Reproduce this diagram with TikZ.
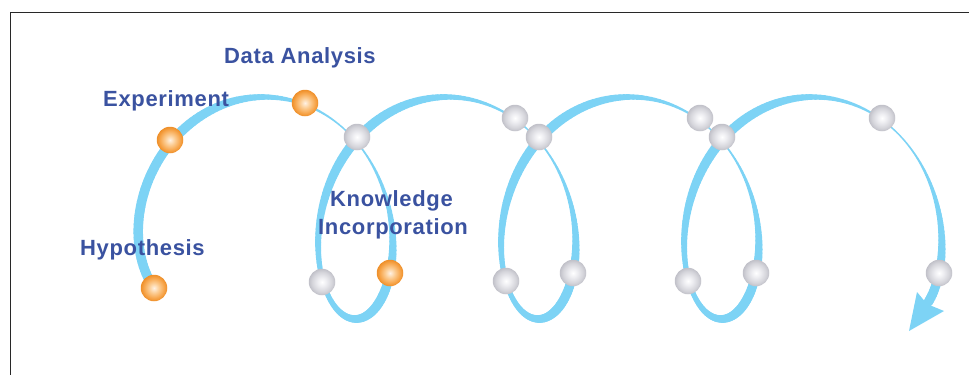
\documentclass[tikz,border=0pt]{standalone}
\usepackage{fontspec}
\newfontfamily\lblfont[LetterSpace=3]{Liberation Sans}
\definecolor{ribbon}{RGB}{125,211,245}
\definecolor{lbl}{RGB}{58,82,160}
\definecolor{framecol}{RGB}{40,40,40}
\definecolor{orA}{RGB}{255,242,228}
\definecolor{orB}{RGB}{252,206,150}
\definecolor{orC}{RGB}{247,166,76}
\definecolor{orD}{RGB}{238,142,40}
\definecolor{grA}{RGB}{255,255,255}
\definecolor{grB}{RGB}{236,236,240}
\definecolor{grC}{RGB}{212,212,218}
\definecolor{grD}{RGB}{192,192,200}
\pgfdeclareradialshading{orangeballshade}{\pgfpoint{0bp}{0bp}}{color(0bp)=(orA); color(9bp)=(orB); color(19bp)=(orC); color(25bp)=(orD); color(50bp)=(orD)}
\pgfdeclareradialshading{grayballshade}{\pgfpoint{0bp}{0bp}}{color(0bp)=(grA); color(9bp)=(grB); color(19bp)=(grC); color(25bp)=(grD); color(50bp)=(grD)}
\begin{document}
\begin{tikzpicture}[x=1pt,y=-1pt,
  declare function={
    rxf(\x)=79+4*cos(deg(\x));
    cxf(\x)=264+29.125*\x+rxf(\x)*sin(deg(\x))+3.7*max(0,-\x-0.9)*max(0,-\x-0.9)*max(0,-\x-0.9);
    cyf(\x)=208-111*cos(deg(\x));
    wwf(\x)=(\x < -0.9)*9.5+(1-(\x < -0.9))*(6.3+3.1*cos(deg(2*(\x-2.4)))+1.75*cos(deg(\x-4.04)));
  },
  obal/.style={circle, minimum size=26.5pt, inner sep=0pt, shade, shading=orangeballshade},
  gbal/.style={circle, minimum size=26.5pt, inner sep=0pt, shade, shading=grayballshade},
  lbltext/.style={font=\lblfont\bfseries\fontsize{22}{28}\selectfont, text=lbl, inner sep=0pt, anchor=base west},
  rib/.style={draw=ribbon, line cap=round}
]
\useasboundingbox (0,0) rectangle (969,375);
% frame
\draw[framecol, line width=1.3pt] (969,12.5) -- (10.8,12.5) -- (10.8,375);
% ribbon
\foreach \i in {0,...,595} {
  \pgfmathsetmacro\ta{-2.4+0.04*\i}
  \pgfmathsetmacro\tb{\ta+0.04}
  \pgfmathsetmacro\tm{\ta+0.02}
  \pgfmathsetmacro\xa{cxf(\ta)}
  \pgfmathsetmacro\ya{cyf(\ta)}
  \pgfmathsetmacro\xb{cxf(\tb)}
  \pgfmathsetmacro\yb{cyf(\tb)}
  \pgfmathsetmacro\wm{wwf(\tm)}
  \draw[rib, line width=\wm pt] (\xa,\ya) -- (\xb,\yb);
}
% arrowhead
\coordinate (atip) at (909,331);
\coordinate (abl) at (917,292);
\coordinate (anotch) at (927,304);
\coordinate (abr) at (944,311);
\fill[ribbon] (atip) -- (abl) -- (anotch) -- (abr) -- cycle;
% balls
\node[obal] (hyp) at (154,288) {};
\node[obal] (exp) at (170,140) {};
\node[obal] (dat) at (305,103) {};
\node[obal] (kno) at (390,273) {};
\node[gbal] (g1) at (357,137) {};
\node[gbal] (g2) at (322,282) {};
\node[gbal] (g3) at (515,118) {};
\node[gbal] (g4) at (539,137) {};
\node[gbal] (g5) at (506,281) {};
\node[gbal] (g6) at (573,273) {};
\node[gbal] (g7) at (700,118) {};
\node[gbal] (g8) at (722,137) {};
\node[gbal] (g9) at (688,281) {};
\node[gbal] (g10) at (756,273) {};
\node[gbal] (g11) at (882,118) {};
\node[gbal] (g12) at (939,273) {};
% labels
\node[lbltext] (hypl) at (80,255) {Hypothesis};
\node[lbltext] (expl) at (103,106) {Experiment};
\node[lbltext] (datl) at (224,63.5) {Data Analysis};
\node[lbltext] (knol1) at (330,206) {Knowledge};
\node[lbltext] (knol2) at (318,234.5) {Incorporation};
\end{tikzpicture}
\end{document}
